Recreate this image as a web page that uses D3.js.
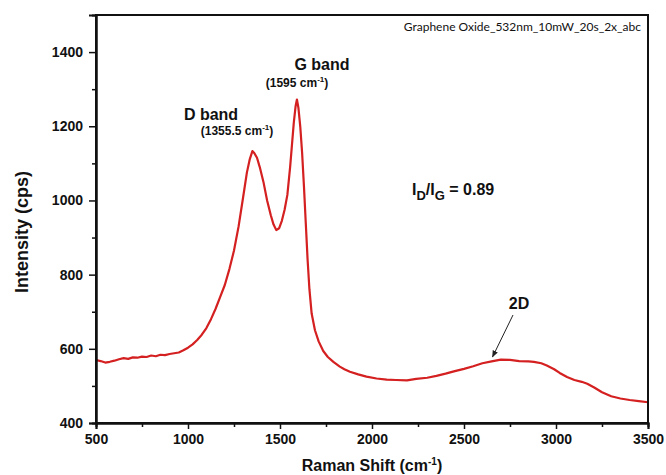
<!DOCTYPE html>
<html>
<head>
<meta charset="utf-8">
<script src="https://cdn.jsdelivr.net/npm/d3@7/dist/d3.min.js"></script>
<style>
body { margin: 0; background: #fff; }
svg text { font-family: "Liberation Sans", Arial, sans-serif; font-weight: bold; fill: #111; }
</style>
</head>
<body>
<svg id="chart" width="666" height="475"></svg>
<script>
// raman spectrum
var shift = [500,525,550,575,600,625,650,675,700,725,750,775,800,825,850,875,900,925,950,975,
  1000,1025,1050,1075,1100,1125,1150,1175,1200,1225,1250,1275,1300,1320,1335,1350,1360,1375,1390,
  1410,1430,1450,1465,1480,1495,1510,1525,1540,1555,1565,1575,1585,1592,1600,1610,1620,1630,1640,
  1650,1660,1672,1690,1710,1735,1760,1790,1825,1850,1880,1925,1970,2025,2080,2130,2190,2240,2300,
  2350,2400,2450,2500,2550,2600,2650,2700,2750,2800,2850,2880,2920,2950,2990,3020,3060,3100,3140,
  3170,3210,3250,3300,3350,3400,3450,3500]
var intensity = [570,567,563,565,568,572,575,573,577,576,579,578,582,580,584,583,586,588,590,596,
  603,612,624,638,656,680,708,740,772,815,865,930,1010,1075,1110,1133,1128,1115,1090,
  1050,1000,960,935,920,925,945,975,1015,1090,1150,1210,1255,1272,1250,1200,1130,1040,940,
  840,760,695,650,620,594,578,565,552,545,538,531,525,520,517,516,515,519,522,
  527,533,540,546,553,561,566,571,570,567,566,565,561,555,545,535,524,516,511,
  506,495,483,472,466,462,459,456]

var xTicks = [500,1000,1500,2000,2500,3000,3500]
var xMinor = [750,1250,1750,2250,2750,3250]
var yTicks = [400,600,800,1000,1200,1400]
var yMinor = [500,700,900,1100,1300]

var spectrum = shift.map(function(s,i){ return {x:s, y:intensity[i]} })

var plotLeft = 96, plotRight = 648, plotTop = 15, plotBottom = 423

var svg = d3.select("#chart")

var xScale = d3.scaleLinear().domain([500,3500]).range([plotLeft,plotRight])
var yScale = d3.scaleLinear().domain([400,1500]).range([plotBottom,plotTop])

//line
var line = d3.line()
    .x(function(d){ return xScale(d.x) })
    .y(function(d){ return yScale(d.y) })

svg.append("path")
    .datum(spectrum)
    .attr("d", line)
    .attr("fill","none")
    .attr("stroke","#d42020")
    .attr("stroke-width",2.2)
    .attr("stroke-linejoin","round")

//frame
svg.append("rect")
    .attr("x",plotLeft).attr("y",plotTop)
    .attr("width",plotRight-plotLeft).attr("height",plotBottom-plotTop)
    .attr("fill","none").attr("stroke","#111").attr("stroke-width",2)

//axes
svg.append("g")
    .attr("transform","translate(0,"+plotBottom+")")
    .call(d3.axisBottom(xScale).tickValues(xTicks).tickSize(6).tickPadding(5).tickFormat(d3.format("d")))
svg.append("g")
    .attr("transform","translate(0,"+plotBottom+")")
    .call(d3.axisBottom(xScale).tickValues(xMinor).tickSize(4).tickFormat(""))

svg.append("g")
    .attr("transform","translate("+plotLeft+",0)")
    .call(d3.axisLeft(yScale).tickValues(yTicks).tickSize(7).tickPadding(6).tickFormat(d3.format("d")))
svg.append("g")
    .attr("transform","translate("+plotLeft+",0)")
    .call(d3.axisLeft(yScale).tickValues(yMinor).tickSize(4).tickFormat(""))

svg.selectAll(".domain").attr("stroke","#111").attr("stroke-width",2)
svg.selectAll(".tick line").attr("stroke","#111").attr("stroke-width",1.5)
svg.selectAll(".tick text")
    .attr("fill","#111")
    .style("font-size","14px")
    .style("font-family","'Liberation Sans', Arial, sans-serif")
    .style("font-weight","bold")

//axis titles
svg.append("text")
    .attr("transform","translate(28,232) rotate(-90)")
    .attr("text-anchor","middle")
    .style("font-size","18px")
    .text("Intensity (cps)")

var xt = svg.append("text")
    .attr("x",372).attr("y",471)
    .attr("text-anchor","middle")
    .style("font-size","16px")
xt.append("tspan").text("Raman Shift (cm")
xt.append("tspan").attr("dy",-6).style("font-size","10px").text("-1")
xt.append("tspan").attr("dy",6).text(")")

//sample name
svg.append("text")
    .attr("x",641).attr("y",31)
    .attr("text-anchor","end")
    .style("font-family","Lato, sans-serif")
    .style("font-weight","normal")
    .style("font-size","12px")
    .text("Graphene Oxide_532nm_10mW_20s_2x_abc")

//band labels
svg.append("text").attr("x",322).attr("y",70).attr("text-anchor","middle")
    .style("font-size","16px").text("G band")
var g1 = svg.append("text").attr("x",297).attr("y",87).attr("text-anchor","middle")
    .style("font-size","12px")
g1.append("tspan").text("(1595 cm")
g1.append("tspan").attr("dy",-5).style("font-size","8px").text("-1")
g1.append("tspan").attr("dy",5).text(")")

svg.append("text").attr("x",211).attr("y",120).attr("text-anchor","middle")
    .style("font-size","16px").text("D band")
var d1 = svg.append("text").attr("x",237).attr("y",135).attr("text-anchor","middle")
    .style("font-size","12px")
d1.append("tspan").text("(1355.5 cm")
d1.append("tspan").attr("dy",-5).style("font-size","8px").text("-1")
d1.append("tspan").attr("dy",5).text(")")

var ratio = svg.append("text").attr("x",412).attr("y",195)
    .style("font-size","16px")
ratio.append("tspan").text("I")
ratio.append("tspan").attr("dy",5).style("font-size","13px").text("D")
ratio.append("tspan").attr("dy",-5).text("/I")
ratio.append("tspan").attr("dy",5).style("font-size","13px").text("G")
ratio.append("tspan").attr("dy",-5).text(" = 0.89")

svg.append("text").attr("x",519).attr("y",309).attr("text-anchor","middle")
    .style("font-size","16px").text("2D")

//arrow to 2D
svg.append("defs").append("marker")
    .attr("id","head").attr("viewBox","0 0 10 10")
    .attr("refX",9).attr("refY",5)
    .attr("markerWidth",7).attr("markerHeight",7)
    .attr("orient","auto")
    .append("path").attr("d","M0,1 L10,5 L0,9 Z").attr("fill","#222")

svg.append("line")
    .attr("x1",513).attr("y1",315)
    .attr("x2",xScale(2655)).attr("y2",yScale(578))
    .attr("stroke","#222").attr("stroke-width",1)
    .attr("marker-end","url(#head)")
</script>
</body>
</html>
